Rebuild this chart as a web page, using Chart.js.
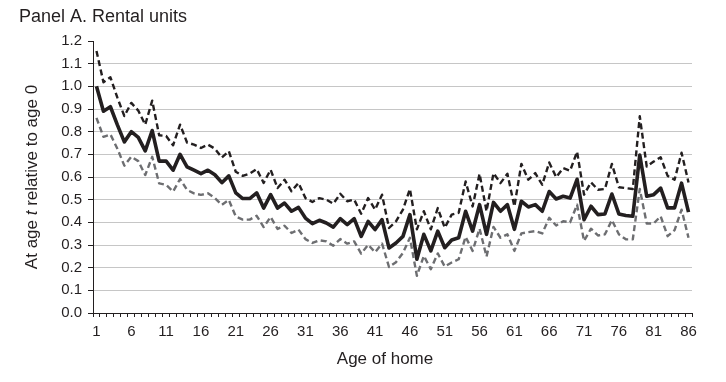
<!DOCTYPE html>
<html>
<head>
<meta charset="utf-8">
<script src="https://cdn.jsdelivr.net/npm/chart.js@4.4.1/dist/chart.umd.min.js"></script>
<style>
  html, body { margin: 0; padding: 0; background: #ffffff; }
  #wrap { width: 726px; height: 382px; }
</style>
</head>
<body>
<div id="wrap"><canvas id="c" width="726" height="382"></canvas></div>
<script>
// ---- Data ----
const ages = [1,2,3,4,5,6,7,8,9,10,11,12,13,14,15,16,17,18,19,20,21,22,23,24,25,26,27,28,29,30,
  31,32,33,34,35,36,37,38,39,40,41,42,43,44,45,46,47,48,49,50,51,52,53,54,55,56,57,58,59,60,
  61,62,63,64,65,66,67,68,69,70,71,72,73,74,75,76,77,78,79,80,81,82,83,84,85,86];

const tickLabels = ['1','6','11','16','21','26','31','36','41','46','51','56','61','66','71','76','81','86'];

const estimate = [1.00,0.89,0.91,0.83,0.755,0.80,0.775,0.715,0.805,0.67,
  0.67,0.63,0.70,0.645,0.63,0.615,0.63,0.61,0.575,0.605,
  0.53,0.505,0.505,0.53,0.463,0.522,0.463,0.485,0.449,0.466,
  0.419,0.394,0.409,0.397,0.379,0.416,0.39,0.416,0.338,0.404,
  0.368,0.412,0.287,0.309,0.338,0.434,0.237,0.347,0.274,0.361,
  0.288,0.322,0.332,0.449,0.361,0.478,0.347,0.488,0.449,0.478,
  0.369,0.493,0.468,0.478,0.449,0.536,0.503,0.515,0.507,0.59,
  0.412,0.471,0.434,0.437,0.525,0.437,0.43,0.427,0.697,0.515,
  0.522,0.551,0.464,0.464,0.573,0.445];

const upperBound = [1.156,1.018,1.04,0.95,0.869,0.927,0.893,0.831,0.937,0.784,
  0.781,0.74,0.831,0.752,0.743,0.728,0.743,0.725,0.686,0.714,
  0.623,0.605,0.615,0.635,0.574,0.632,0.551,0.588,0.537,0.574,
  0.507,0.49,0.507,0.5,0.482,0.526,0.493,0.5,0.438,0.507,
  0.456,0.522,0.375,0.404,0.456,0.547,0.369,0.449,0.369,0.463,
  0.376,0.434,0.442,0.58,0.47,0.614,0.449,0.617,0.573,0.614,
  0.47,0.658,0.588,0.617,0.566,0.664,0.599,0.639,0.628,0.712,
  0.522,0.576,0.544,0.547,0.658,0.555,0.551,0.547,0.868,0.646,
  0.668,0.687,0.605,0.588,0.707,0.576];

const lowerBound = [0.861,0.777,0.788,0.725,0.65,0.689,0.67,0.609,0.689,0.572,
  0.565,0.536,0.591,0.543,0.528,0.521,0.528,0.507,0.477,0.499,
  0.426,0.412,0.412,0.429,0.379,0.424,0.371,0.385,0.353,0.368,
  0.326,0.309,0.321,0.316,0.297,0.326,0.306,0.316,0.262,0.301,
  0.268,0.306,0.203,0.224,0.265,0.332,0.164,0.252,0.193,0.263,
  0.205,0.223,0.237,0.336,0.274,0.372,0.249,0.38,0.332,0.347,
  0.274,0.351,0.357,0.361,0.351,0.42,0.386,0.405,0.40,0.478,
  0.318,0.372,0.342,0.347,0.41,0.347,0.325,0.325,0.547,0.395,
  0.395,0.427,0.339,0.366,0.456,0.332];

const panelTitle = 'Panel A. Rental units';
const xTitle = 'Age of home';
const yTitleParts = [['At age ', false], ['t', true], [' relative to age 0', false]];

// ---- Styles ----
const FONT = '"Liberation Sans", Arial, Helvetica, sans-serif';
const TEXT = '#231f20';

const textPlugin = {
  id: 'texts',
  afterDraw(chart) {
    const ctx = chart.ctx;
    const area = chart.chartArea;
    ctx.save();
    ctx.fillStyle = TEXT;
    // Panel title
    ctx.font = '18px ' + FONT;
    ctx.textAlign = 'left';
    ctx.textBaseline = 'alphabetic';
    ctx.fillText(panelTitle, 19, 22);
    // X title
    ctx.font = '17px ' + FONT;
    ctx.textAlign = 'center';
    ctx.textBaseline = 'middle';
    ctx.fillText(xTitle, 385, 359);
    // Y title with italic t
    ctx.translate(32, (area.top + area.bottom) / 2);
    ctx.rotate(-Math.PI / 2);
    ctx.textAlign = 'left';
    let total = 0;
    for (const [s, it] of yTitleParts) {
      ctx.font = (it ? 'italic ' : '') + '17px ' + FONT;
      total += ctx.measureText(s).width;
    }
    let x = -total / 2;
    for (const [s, it] of yTitleParts) {
      ctx.font = (it ? 'italic ' : '') + '17px ' + FONT;
      ctx.fillText(s, x, 0);
      x += ctx.measureText(s).width;
    }
    ctx.restore();
  }
};

new Chart(document.getElementById('c'), {
  type: 'line',
  data: {
    labels: ages.map(String),
    datasets: [
      { label: 'Upper', data: upperBound, borderColor: '#231f20', borderWidth: 2.4,
        borderDash: [6, 3.5], borderJoinStyle: 'round', pointRadius: 0, tension: 0, fill: false },
      { label: 'Lower', data: lowerBound, borderColor: '#6d6e71', borderWidth: 2.4,
        borderDash: [6, 3.5], borderJoinStyle: 'round', pointRadius: 0, tension: 0, fill: false },
      { label: 'Estimate', data: estimate, borderColor: '#231f20', borderWidth: 3.6,
        pointRadius: 0, tension: 0, fill: false, borderJoinStyle: 'round' }
    ]
  },
  options: {
    responsive: false,
    animation: false,
    devicePixelRatio: 1,
    layout: { padding: { left: 0, top: 41, right: 34, bottom: 0 } },
    plugins: { legend: { display: false }, tooltip: { enabled: false }, title: { display: false } },
    scales: {
      x: {
        type: 'category',
        offset: true,
        grid: { display: true, offset: true, drawOnChartArea: false, drawTicks: true,
                tickLength: 4, tickColor: '#231f20', color: '#231f20' },
        border: { display: true, color: '#231f20', width: 1 },
        ticks: {
          autoSkip: false, maxRotation: 0, minRotation: 0, padding: 6,
          color: TEXT, font: { family: FONT, size: 15 },
          callback: function (v, i) {
            const lab = ages[i] !== undefined ? String(ages[i]) : '';
            return tickLabels.includes(lab) ? lab : '';
          }
        },
        afterFit(scale) { scale.height = 69; }
      },
      y: {
        min: 0, max: 1.2,
        ticks: {
          stepSize: 0.1, padding: 6, color: TEXT, font: { family: FONT, size: 15 },
          callback: v => Number(v).toFixed(1)
        },
        grid: {
          drawTicks: true, tickLength: 5, tickColor: '#231f20',
          color: c => (Math.abs(c.tick.value - 1.2) < 1e-6 || Math.abs(c.tick.value) < 1e-6) ? 'rgba(0,0,0,0)' : '#c6c6c6',
          lineWidth: 1
        },
        border: { display: true, color: '#231f20', width: 1 },
        afterFit(scale) { scale.width = 93; }
      }
    }
  },
  plugins: [textPlugin]
});
</script>
</body>
</html>
